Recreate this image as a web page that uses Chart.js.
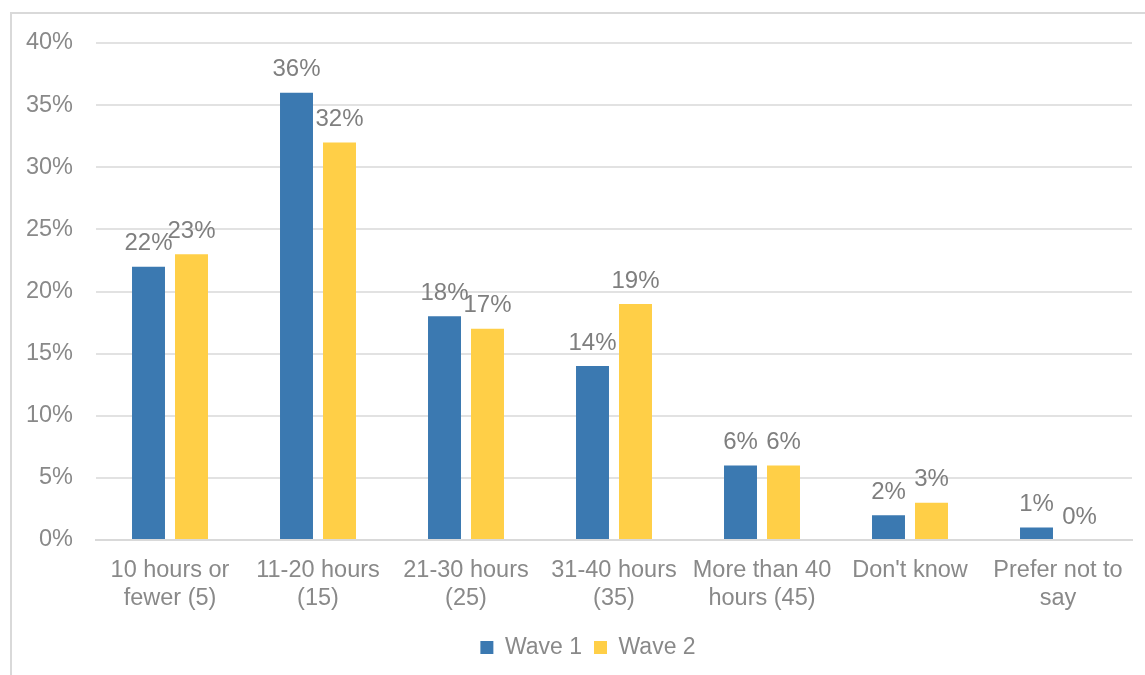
<!DOCTYPE html>
<html>
<head>
<meta charset="utf-8">
<script src="https://cdn.jsdelivr.net/npm/chart.js@4.4.1/dist/chart.umd.min.js"></script>
<style>
  html, body { margin: 0; padding: 0; background: #fff; }
  #wrap { width: 1145px; height: 675px; }
</style>
</head>
<body>
<div id="wrap"><canvas id="hoursChart" width="1145" height="675"></canvas></div>
<script>
const categories = [
  ["10 hours or", "fewer (5)"],
  ["11-20 hours", "(15)"],
  ["21-30 hours", "(25)"],
  ["31-40 hours", "(35)"],
  ["More than 40", "hours (45)"],
  ["Don't know"],
  ["Prefer not to", "say"]
];
const wave1 = [22, 36, 18, 14, 6, 2, 1];
const wave2 = [23, 32, 17, 19, 6, 3, 0];
const yTicks = [0, 5, 10, 15, 20, 25, 30, 35, 40];

const textGray = "#898989";
const fontFamily = "'Liberation Sans', Arial, sans-serif";

// light frame round the chart, like the Excel chart area
const framePlugin = {
  id: "frame",
  afterLayout(chart) {
    // Excel centres the legend a little right of the canvas centre
    chart.legend.left += 22;
    chart.legend.right += 22;
  },
  beforeDraw(chart) {
    const ctx = chart.ctx;
    ctx.save();
    ctx.strokeStyle = "#d9d9d9";
    ctx.lineWidth = 2;
    ctx.beginPath();
    ctx.moveTo(11, 675);
    ctx.lineTo(11, 13);
    ctx.lineTo(1145, 13);
    ctx.stroke();
    ctx.restore();
  }
};

// value labels above every bar
const valueLabels = {
  id: "valueLabels",
  afterDatasetsDraw(chart) {
    const ctx = chart.ctx;
    ctx.save();
    ctx.font = "24px " + fontFamily;
    ctx.fillStyle = "#7f7f7f";
    ctx.textAlign = "center";
    ctx.textBaseline = "middle";
    chart.data.datasets.forEach((ds, i) => {
      chart.getDatasetMeta(i).data.forEach((bar, j) => {
        ctx.fillText(ds.data[j] + "%", bar.x, bar.y - 23);
      });
    });
    ctx.restore();
  }
};

new Chart(document.getElementById("hoursChart"), {
  type: "bar",
  data: {
    labels: categories,
    datasets: [
      { label: "Wave 1", data: wave1, backgroundColor: "#3b79b1" },
      { label: "Wave 2", data: wave2, backgroundColor: "#ffcf47" }
    ]
  },
  options: {
    responsive: false,
    animation: false,
    layout: { padding: { top: 43, right: 13, bottom: 6, left: 0 } },
    datasets: {
      bar: { categoryPercentage: 0.581, barPercentage: 0.767 }
    },
    plugins: {
      legend: {
        position: "bottom",
        labels: {
          boxWidth: 13,
          boxHeight: 13,
          padding: 12,
          color: textGray,
          font: { size: 23, family: fontFamily }
        }
      },
      tooltip: { enabled: false }
    },
    scales: {
      x: {
        grid: { display: false },
        border: { color: "#d9d9d9", width: 2 },
        ticks: {
          color: textGray,
          padding: 8,
          maxRotation: 0,
          autoSkip: false,
          font: { size: 23.5, family: fontFamily, lineHeight: 1.2 }
        },
        afterFit(scale) { scale.height = 84; }
      },
      y: {
        min: 0,
        max: 40,
        afterBuildTicks(scale) { scale.ticks = yTicks.map(v => ({ value: v })); },
        grid: { color: "#e2e2e2", lineWidth: 2, drawTicks: false },
        border: { display: false },
        ticks: {
          color: textGray,
          padding: 23,
          font: { size: 23.5, family: fontFamily },
          callback: v => v + "%"
        },
        afterFit(scale) { scale.width = 96; }
      }
    }
  },
  plugins: [framePlugin, valueLabels]
});
</script>
</body>
</html>
